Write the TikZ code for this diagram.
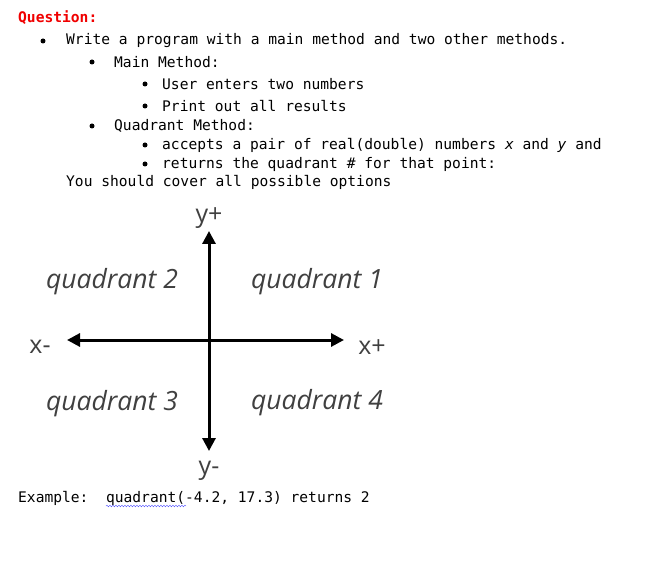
\documentclass[tikz,border=0pt]{standalone}
\usepackage{fontspec}
\setmainfont{Open Sans}
\setmonofont{DejaVu Sans Mono}
\usetikzlibrary{arrows.meta,decorations.pathmorphing}
\definecolor{qred}{RGB}{240,0,0}
\definecolor{axgray}{RGB}{64,64,64}
\begin{document}
\begin{tikzpicture}[x=1pt,y=-1pt]
        \tikzset{txt/.style={anchor=west, inner sep=0pt, font=\fontsize{14.6}{16}\ttfamily}}
        \tikzset{dot/.style={circle, fill=black, inner sep=0pt, minimum size=5pt}}
        \tikzset{axlab/.style={text=axgray, inner sep=0pt, font=\fontsize{25}{28}\selectfont}}
        \tikzset{quad/.style={axlab, font=\fontsize{26.5}{30}\selectfont\itshape}}
        \tikzset{axis/.style={line width=3pt, -{Triangle[length=13pt,width=13pt]}}}
        \useasboundingbox (0,0) rectangle (672,564);
        % question text
        \node[txt, text=qred, font=\fontsize{14.6}{16}\ttfamily\bfseries] (q) at (18,18) {Question:};
        \node[dot] (b1) at (43,41) {};
        \node[txt] (t1) at (66,41) {Write a program with a main method and two other methods.};
        \node[dot] (b2) at (92,62) {};
        \node[txt] (t2) at (114,62) {Main Method:};
        \node[dot] (b3) at (145,84) {};
        \node[txt] (t3) at (162,84) {User enters two numbers};
        \node[dot] (b4) at (145,106) {};
        \node[txt] (t4) at (162,106) {Print out all results};
        \node[dot] (b5) at (92,126) {};
        \node[txt] (t5) at (114,126) {Quadrant Method:};
        \node[dot] (b6) at (145,145) {};
        \node[txt] (t6) at (162,145) {accepts a pair of real(double) numbers \textit{x} and \textit{y} and};
        \node[dot] (b7) at (145,164) {};
        \node[txt] (t7) at (162,164) {returns the quadrant \# for that point:};
        \node[txt] (t8) at (66,182) {You should cover all possible options};
        % axes
        \coordinate (o) at (209,340);
        \coordinate (top) at (209,231);
        \coordinate (bot) at (209,451);
        \coordinate (lft) at (67,340);
        \coordinate (rgt) at (344,340);
        \draw[axis] (o) -- (top);
        \draw[axis] (o) -- (bot);
        \draw[axis] (o) -- (lft);
        \draw[axis] (o) -- (rgt);
        \node[axlab] (yp) at (209,218) {y+};
        \node[axlab] (ym) at (209,471) {y-};
        \node[axlab] (xm) at (40,347) {x-};
        \node[axlab] (xp) at (372,347) {x+};
        \node[quad] (q1) at (317,282) {quadrant 1};
        \node[quad] (q2) at (112,282) {quadrant 2};
        \node[quad] (q3) at (112,404) {quadrant 3};
        \node[quad] (q4) at (317,403) {quadrant 4};
        % example
        \node[txt] (ex) at (18,498) {Example:\ \ quadrant(-4.2, 17.3) returns 2};
        \coordinate (w1) at (106,506);
        \coordinate (w2) at (186,506);
        \draw[blue!70, thin, decorate, decoration={snake, amplitude=0.8pt, segment length=3pt}] (w1) -- (w2);
\end{tikzpicture}
\end{document}
